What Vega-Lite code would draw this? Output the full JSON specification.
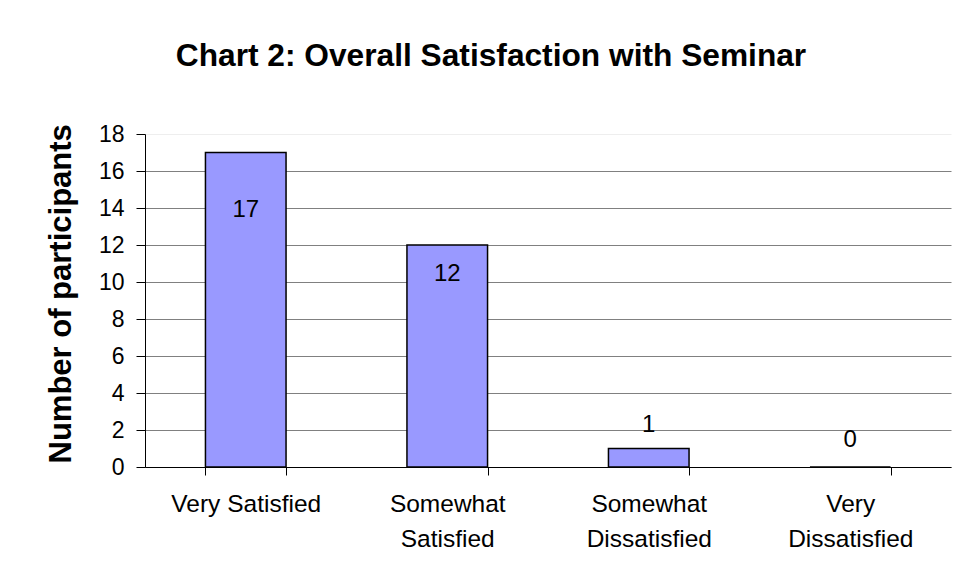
{
  "$schema": "https://vega.github.io/schema/vega-lite/v6.json",
  "width": 806,
  "height": 333,
  "autosize": {"type": "none"},
  "padding": {"left": 145, "top": 134, "right": 5, "bottom": 110},
  "background": "white",
  "title": {
    "text": "Chart 2: Overall Satisfaction with Seminar",
    "font": "Liberation Sans",
    "fontSize": 31.7,
    "fontWeight": "bold",
    "color": "black",
    "dx": -57,
    "offset": 50
  },
  "config": {"view": {"stroke": null}},
  "data": {
    "values": [
      {"rating": "Very Satisfied", "count": 17},
      {"rating": "Somewhat Satisfied", "count": 12},
      {"rating": "Somewhat Dissatisfied", "count": 1},
      {"rating": "Very Dissatisfied", "count": 0}
    ]
  },
  "encoding": {
    "x": {
      "field": "rating",
      "type": "nominal",
      "sort": null,
      "scale": {"paddingInner": 0.6, "paddingOuter": 0.3},
      "axis": {
        "title": null,
        "labelAngle": 0,
        "labelFont": "Liberation Sans",
        "labelFontSize": 24.5,
        "labelColor": "black",
        "labelPadding": 17,
        "labelLineHeight": 35,
        "labelExpr": "datum.label == 'Very Satisfied' ? datum.label : split(datum.label, ' ')",
        "tickBand": "extent",
        "tickSize": 8,
        "tickColor": "black",
        "domainColor": "black",
        "grid": false
      }
    },
    "y": {
      "field": "count",
      "type": "quantitative",
      "scale": {"domain": [0, 18], "nice": false},
      "axis": {
        "values": [0, 2, 4, 6, 8, 10, 12, 14, 16, 18],
        "labelOverlap": false,
        "title": "Number of participants",
        "titleFont": "Liberation Sans",
        "titleFontSize": 31,
        "titleFontWeight": "bold",
        "titleColor": "black",
        "titleAngle": -90,
        "titleX": -75,
        "titleY": 329,
        "titleAlign": "left",
        "titleBaseline": "alphabetic",
        "labelFont": "Liberation Sans",
        "labelFontSize": 23,
        "labelColor": "black",
        "labelPadding": 12,
        "tickSize": 9,
        "tickColor": "black",
        "domainColor": "black",
        "grid": true,
        "gridColor": {"condition": {"test": "datum.value === 18", "value": "#eeeeee"}, "value": "#808080"}
      }
    }
  },
  "layer": [
    {
      "mark": {"type": "bar", "fill": "#9999FF", "stroke": "black", "strokeWidth": 1.5}
    },
    {
      "transform": [{"filter": "datum.count > 15"}],
      "mark": {"type": "text", "font": "Liberation Sans", "fontSize": 24, "color": "black", "align": "center", "baseline": "middle", "dy": 57},
      "encoding": {"text": {"field": "count", "type": "quantitative"}}
    },
    {
      "transform": [{"filter": "datum.count > 5 && datum.count <= 15"}],
      "mark": {"type": "text", "font": "Liberation Sans", "fontSize": 24, "color": "black", "align": "center", "baseline": "middle", "dy": 29},
      "encoding": {"text": {"field": "count", "type": "quantitative"}}
    },
    {
      "transform": [{"filter": "datum.count > 0 && datum.count <= 5"}],
      "mark": {"type": "text", "font": "Liberation Sans", "fontSize": 24, "color": "black", "align": "center", "baseline": "middle", "dy": -24},
      "encoding": {"text": {"field": "count", "type": "quantitative"}}
    },
    {
      "transform": [{"filter": "datum.count <= 0"}],
      "mark": {"type": "text", "font": "Liberation Sans", "fontSize": 24, "color": "black", "align": "center", "baseline": "middle", "dy": -27},
      "encoding": {"text": {"field": "count", "type": "quantitative"}}
    }
  ]
}
